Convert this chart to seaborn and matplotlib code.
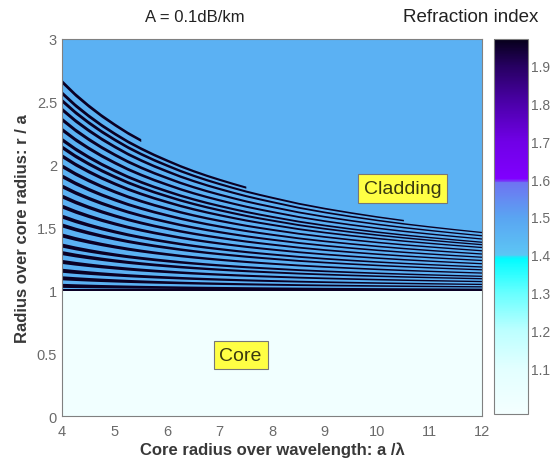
import numpy as np
import matplotlib
matplotlib.use("Agg")
import matplotlib.pyplot as plt
import seaborn as sns
from matplotlib.colors import LinearSegmentedColormap, Normalize

# ---------------- data ----------------
# a/lambda knots and the radial shrink factor of the ring pattern at each knot
a_over_lambda = [4.0, 4.25, 4.5, 4.75, 5.0, 5.25, 5.5, 5.75, 6.0, 6.25, 6.5,
                 6.75, 7.0, 7.25, 7.5, 7.75, 8.0, 8.5, 9.0, 9.5, 10.0, 10.5,
                 11.0, 11.5, 12.0]
ring_scale = [1.000, 0.939, 0.886, 0.838, 0.795, 0.755, 0.720, 0.688, 0.659,
              0.631, 0.606, 0.583, 0.562, 0.542, 0.523, 0.506, 0.490, 0.459,
              0.433, 0.410, 0.389, 0.370, 0.353, 0.337, 0.322]
# radius of each high-index ring (r/a) at a/lambda = 4, and where it stops
ring_radius_at_4 = [2.66, 2.57, 2.51, 2.44, 2.36, 2.28, 2.20, 2.14, 2.07,
                    1.99, 1.91, 1.83, 1.75, 1.67, 1.59, 1.52, 1.44, 1.36,
                    1.30, 1.23, 1.16, 1.10, 1.04]
ring_end = [5.5, 7.5, 10.5] + [12.0] * 20
ring_thickness_at_4 = 0.032

core_radius = 1.0
outer_radius = 3.0
n_core = 1.0
n_cladding = 1.46
n_ring = 1.96

x_ticks = [4, 5, 6, 7, 8, 9, 10, 11, 12]
y_ticks = [0, 0.5, 1, 1.5, 2, 2.5, 3]
y_tick_labels = ["0", "0.5", "1", "1.5", "2", "2.5", "3"]
cbar_ticks = [1.1, 1.2, 1.3, 1.4, 1.5, 1.6, 1.7, 1.8, 1.9]
vmin, vmax = 0.98, 1.97

# ---------------- colour map ----------------
stops = [
    (0.98, "#f4ffff"), (1.10, "#e2ffff"), (1.20, "#bcffff"), (1.30, "#66ffff"),
    (1.39, "#00fcff"), (1.40, "#5cc6f4"), (1.50, "#5aa4f2"), (1.59, "#6e74f2"),
    (1.60, "#8000ff"), (1.70, "#7000e6"), (1.80, "#4c00aa"), (1.90, "#260060"),
    (1.97, "#06001a"),
]
cmap = LinearSegmentedColormap.from_list(
    "refr", [((v - vmin) / (vmax - vmin), c) for v, c in stops], N=512)
norm = Normalize(vmin=vmin, vmax=vmax)

sns.set_theme(style="white")
plt.rcParams["font.family"] = ["Liberation Sans", "DejaVu Sans"]

fig = plt.figure(figsize=(5.53, 4.64), dpi=100)
ax = fig.add_axes([0.112, 0.101, 0.760, 0.813])
cax = fig.add_axes([0.893, 0.106, 0.062, 0.808])

# background: core and cladding
x_edges = [a_over_lambda[0], a_over_lambda[-1]]
r_edges = [0.0, core_radius, outer_radius]
grid = np.array([[n_core], [n_cladding]])
mesh = ax.pcolormesh(x_edges, r_edges, grid, cmap=cmap, norm=norm, shading="flat")

# rings
ring_color = cmap(norm(n_ring))
xs = np.array(a_over_lambda)
sc = np.array(ring_scale)
for r0, end in zip(ring_radius_at_4, ring_end):
    m = xs <= end + 1e-9
    centre = core_radius + (r0 - core_radius) * sc[m]
    half = 0.5 * ring_thickness_at_4 * sc[m]
    ax.fill_between(xs[m], centre - half, centre + half, color=ring_color, lw=0)
ax.fill_between(xs, core_radius - 0.008, core_radius + 0.012, color=ring_color, lw=0)

ax.set_xlim(4, 12)
ax.set_ylim(0, 3)
ax.set_xticks(x_ticks)
ax.set_xticklabels([str(t) for t in x_ticks])
ax.set_yticks(y_ticks)
ax.set_yticklabels(y_tick_labels)
tick_col = "#6a6a6a"
ax.tick_params(axis="x", pad=6)
ax.tick_params(direction="in", length=3, width=0.6, colors=tick_col,
               labelsize=10.5, top=True, right=True, labelcolor=tick_col)
for s in ax.spines.values():
    s.set_color("#808080")
    s.set_linewidth(0.8)

ax.set_xlabel("Core radius over wavelength: a /\u03bb", fontsize=12,
              color="#383838", fontweight="bold", labelpad=2)
ax.set_ylabel("Radius over core radius: r / a", fontsize=12,
              color="#383838", fontweight="bold", labelpad=5)

box = dict(boxstyle="square,pad=0.3", facecolor="#ffff44", edgecolor="#777777", lw=0.8)
ax.text(7.4, 0.485, "Core", fontsize=14, color="#3a3a10", ha="center", va="center", bbox=box)
ax.text(10.48, 1.81, "Cladding", fontsize=14, color="#3a3a10", ha="center", va="center", bbox=box)

# colorbar
cb = fig.colorbar(mesh, cax=cax, ticks=cbar_ticks)
cb.outline.set_edgecolor("#808080")
cb.outline.set_linewidth(0.8)
cax.tick_params(direction="in", length=2.5, width=0.6, colors=tick_col,
                labelsize=10, left=True, right=True, labelcolor=tick_col, pad=2)
cax.set_yticklabels([f"{t:.1f}" for t in cbar_ticks])

fig.text(0.353, 0.963, "A = 0.1dB/km", fontsize=12, color="#222222",
         ha="center", va="center")
fig.text(0.852, 0.963, "Refraction index", fontsize=13.5, color="#222222",
         ha="center", va="center")

fig.savefig("out.png", dpi=100)
